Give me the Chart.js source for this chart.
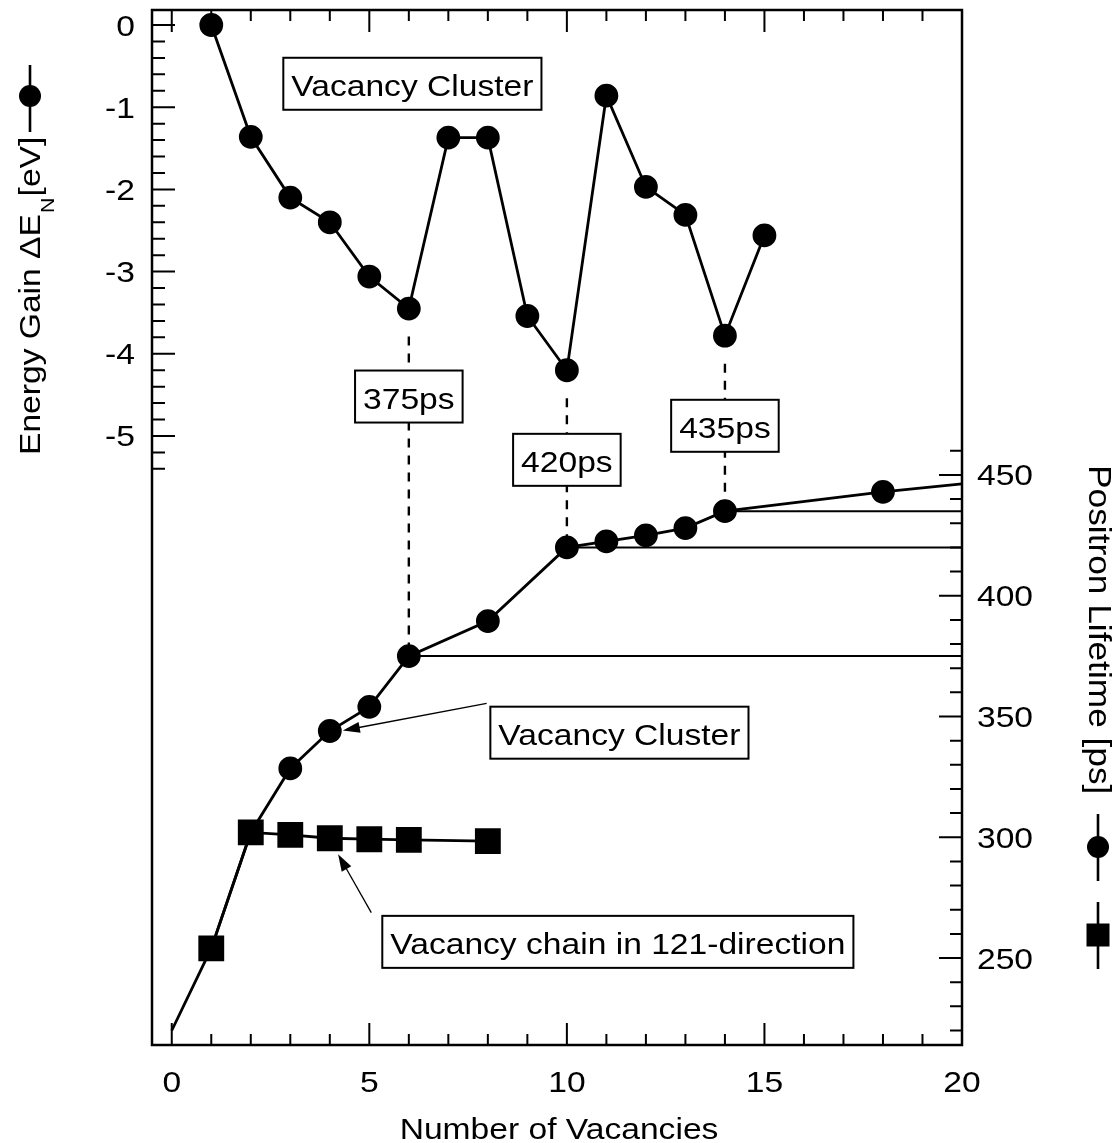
<!DOCTYPE html>
<html>
<head>
<meta charset="utf-8">
<title>Vacancy clusters: energy gain and positron lifetime</title>
<script src="https://cdn.jsdelivr.net/npm/chart.js@4.4.1/dist/chart.umd.min.js"></script>
<style>
  html, body { margin: 0; padding: 0; background: #fff; }
  #wrap { width: 1115px; height: 1143px; }
</style>
</head>
<body>
<div id="wrap"><canvas id="vacChart" width="1115" height="1143"></canvas></div>
<script>
// energy gain when adding the N-th vacancy (left axis, eV)
var energyN = [1, 2, 3, 4, 5, 6, 7, 8, 9, 10, 11, 12, 13, 14, 15];
var energyGain = [0, -1.36, -2.10, -2.40, -3.06, -3.45, -1.37, -1.37, -3.54, -4.20, -0.86, -1.97, -2.31, -3.78, -2.56];

// positron lifetime of compact clusters (right axis, ps); n = 0..2 and 20 carry no marker
var clusterN = [0, 1, 2, 3, 4, 5, 6, 8, 10, 11, 12, 13, 14, 18, 20];
var clusterTau = [220, 254, 302, 328.5, 344, 354, 375, 389.5, 420, 422.5, 425, 428, 435, 443, 446.3];

// vacancy chain in 121-direction
var chainN = [1, 2, 3, 4, 5, 6, 8];
var chainTau = [254, 302, 301, 299.6, 299.2, 298.9, 298.4];

// lifetimes marked with a drop line, a label and a level line
var markedN = [6, 10, 14];
var markedTau = [375, 420, 435];

var xTicks = [0, 5, 10, 15, 20];
var energyTicks = [0, -1, -2, -3, -4, -5];
var tauTicks = [250, 300, 350, 400, 450];

var FONT = '"Liberation Sans", Arial, Helvetica, sans-serif';
var STRETCH = 1.12; // lettering in this figure runs a bit wider than plain Arial

function pts(xs, ys) {
  return xs.map(function (v, i) { return { x: v, y: ys[i] }; });
}

function setFont(ctx, size) { ctx.font = size + 'px ' + FONT; }

function textWidth(ctx, str, size) {
  setFont(ctx, size);
  return ctx.measureText(str).width * STRETCH;
}

function drawText(ctx, str, x, y, size, align) {
  ctx.save();
  ctx.translate(x, y);
  ctx.scale(STRETCH, 1);
  setFont(ctx, size);
  ctx.textAlign = align || 'center';
  ctx.textBaseline = 'alphabetic';
  ctx.fillText(str, 0, 0);
  ctx.restore();
}

function arrow(ctx, x0, y0, x1, y1) {
  var a = Math.atan2(y1 - y0, x1 - x0), L = 17, W = 5.5;
  var c = Math.cos(a), s = Math.sin(a);
  ctx.beginPath();
  ctx.moveTo(x0, y0);
  ctx.lineTo(x1 - L * 0.8 * c, y1 - L * 0.8 * s);
  ctx.stroke();
  ctx.beginPath();
  ctx.moveTo(x1, y1);
  ctx.lineTo(x1 - L * c + W * s, y1 - L * s - W * c);
  ctx.lineTo(x1 - L * c - W * s, y1 - L * s + W * c);
  ctx.closePath();
  ctx.fill();
}

// little "marker on a line" keys next to the axis titles
function keySymbol(ctx, cx, cy, y0, y1, shape) {
  ctx.lineWidth = 2.6;
  ctx.beginPath();
  ctx.moveTo(cx, y0);
  ctx.lineTo(cx, y1);
  ctx.stroke();
  ctx.beginPath();
  if (shape === 'circle') ctx.arc(cx, cy, 11, 0, Math.PI * 2);
  else ctx.rect(cx - 11.5, cy - 11.5, 23, 23);
  ctx.fill();
}

// boxed labels, placed in data units (n, value on the given axis)
var notes = [
  { text: 'Vacancy Cluster', n: 6.09, v: -0.715, axis: 'yE' },
  { text: markedTau[0] + 'ps', n: markedN[0], v: -4.52, axis: 'yE' },
  { text: markedTau[1] + 'ps', n: markedN[1], v: -5.29, axis: 'yE' },
  { text: markedTau[2] + 'ps', n: markedN[2], v: -4.876, axis: 'yE' },
  { text: 'Vacancy Cluster', n: 11.33, v: 343.3, axis: 'yT' },
  { text: 'Vacancy chain in 121-direction', n: 11.29, v: 256.7, axis: 'yT' }
];

// pointer arrows, lifetime axis units
var pointers = [
  { from: [7.97, 355.4], to: [4.33, 344.2] },
  { from: [5.05, 268.8], to: [4.21, 293] }
];

var plotExtras = {
  id: 'plotExtras',
  beforeDatasetsDraw: function (chart) {
    var ctx = chart.ctx, sx = chart.scales.x, yE = chart.scales.yE, yT = chart.scales.yT;
    var area = chart.chartArea;
    ctx.save();
    ctx.strokeStyle = '#000';
    // dashed drops from the energy minimum down to the lifetime point
    ctx.lineWidth = 2.4;
    ctx.setLineDash([9, 8]);
    markedN.forEach(function (n, i) {
      var px = sx.getPixelForValue(n);
      var top = yE.getPixelForValue(energyGain[energyN.indexOf(n)]) + 28;
      ctx.beginPath();
      ctx.moveTo(px, top);
      ctx.lineTo(px, yT.getPixelForValue(markedTau[i]));
      ctx.stroke();
    });
    // level lines out to the right frame
    ctx.setLineDash([]);
    ctx.lineWidth = 2;
    markedN.forEach(function (n, i) {
      var py = yT.getPixelForValue(markedTau[i]);
      ctx.beginPath();
      ctx.moveTo(sx.getPixelForValue(n), py);
      ctx.lineTo(area.right, py);
      ctx.stroke();
    });
    ctx.restore();
  },
  afterDatasetsDraw: function (chart) {
    var ctx = chart.ctx, sx = chart.scales.x;
    ctx.save();
    ctx.fillStyle = '#000';
    ctx.strokeStyle = '#000';
    notes.forEach(function (nt) {
      var cx = sx.getPixelForValue(nt.n);
      var cy = chart.scales[nt.axis].getPixelForValue(nt.v);
      var w = textWidth(ctx, nt.text, 30) + 16, h = 52;
      ctx.fillStyle = '#fff';
      ctx.fillRect(cx - w / 2, cy - h / 2, w, h);
      ctx.lineWidth = 2;
      ctx.strokeRect(cx - w / 2, cy - h / 2, w, h);
      ctx.fillStyle = '#000';
      drawText(ctx, nt.text, cx, cy + 12, 30, 'center');
    });
    ctx.lineWidth = 1.3;
    var yT = chart.scales.yT;
    pointers.forEach(function (p) {
      arrow(ctx, sx.getPixelForValue(p.from[0]), yT.getPixelForValue(p.from[1]),
        sx.getPixelForValue(p.to[0]), yT.getPixelForValue(p.to[1]));
    });
    ctx.restore();
  },
  afterDraw: function (chart) {
    var ctx = chart.ctx, area = chart.chartArea;
    var sx = chart.scales.x, yE = chart.scales.yE, yT = chart.scales.yT;
    ctx.save();
    ctx.strokeStyle = '#000';
    ctx.fillStyle = '#000';

    // inward tick marks on all four sides
    ctx.lineWidth = 2;
    ctx.beginPath();
    for (var n = 0; n <= 20; n++) {
      var px = sx.getPixelForValue(n), len = n % 5 === 0 ? 22 : 11;
      ctx.moveTo(px, area.bottom); ctx.lineTo(px, area.bottom - len);
      ctx.moveTo(px, area.top); ctx.lineTo(px, area.top + len);
    }
    for (var k = 0; k <= 27; k++) {
      var py = yE.getPixelForValue(-k * 0.2), le = k % 5 === 0 ? 23 : 13;
      ctx.moveTo(area.left, py); ctx.lineTo(area.left + le, py);
    }
    for (var t = 220; t <= 460; t += 10) {
      var pt = yT.getPixelForValue(t), lt = t % 50 === 0 ? 23 : 12;
      ctx.moveTo(area.right, pt); ctx.lineTo(area.right - lt, pt);
    }
    ctx.stroke();

    ctx.lineWidth = 2.5;
    ctx.strokeRect(area.left, area.top, area.right - area.left, area.bottom - area.top);

    // tick labels, taken from the ticks each scale built
    sx.ticks.forEach(function (tk) {
      drawText(ctx, String(tk.value), sx.getPixelForValue(tk.value), area.bottom + 47, 30, 'center');
    });
    yE.ticks.forEach(function (tk) {
      drawText(ctx, String(tk.value), area.left - 17, yE.getPixelForValue(tk.value) + 10.5, 30, 'right');
    });
    yT.ticks.forEach(function (tk) {
      drawText(ctx, String(tk.value), area.right + 15, yT.getPixelForValue(tk.value) + 10.5, 30, 'left');
    });

    // axis titles
    drawText(ctx, 'Number of Vacancies', 559, 1139, 30, 'center');

    ctx.save();
    ctx.translate(40, 455);
    ctx.rotate(-Math.PI / 2);
    ctx.scale(STRETCH, 1);
    ctx.textAlign = 'left';
    setFont(ctx, 30);
    var s1 = 'Energy Gain \u0394E';
    ctx.fillText(s1, 0, 0);
    var w = ctx.measureText(s1).width;
    setFont(ctx, 19);
    ctx.fillText('N', w + 1, 14);
    w += ctx.measureText('N').width + 2;
    setFont(ctx, 30);
    ctx.fillText('[eV]', w, 0);
    ctx.restore();
    keySymbol(ctx, 30, 96, 65, 132, 'circle');

    ctx.save();
    ctx.translate(1089, 465);
    ctx.rotate(Math.PI / 2);
    ctx.scale(STRETCH, 1);
    ctx.textAlign = 'left';
    setFont(ctx, 31.5);
    ctx.fillText('Positron Lifetime [ps]', 0, 0);
    ctx.restore();
    keySymbol(ctx, 1098, 847, 814, 881, 'circle');
    keySymbol(ctx, 1098, 935, 902, 969, 'square');

    ctx.restore();
  }
};

function fixedTicks(list) {
  return function (scale) {
    scale.ticks = list.map(function (v) { return { value: v }; });
  };
}

function noEdgePadding(scale) {
  scale.paddingTop = 0;
  scale.paddingBottom = 0;
  scale.paddingLeft = 0;
  scale.paddingRight = 0;
}

var ctxV = document.getElementById('vacChart').getContext('2d');
var vacChart = new Chart(ctxV, {
  type: 'line',
  data: {
    datasets: [{
      label: 'Energy gain',
      data: pts(energyN, energyGain),
      yAxisID: 'yE',
      borderColor: '#000',
      backgroundColor: '#000',
      borderWidth: 2.8,
      pointRadius: 10.5,
      pointStyle: 'circle',
      tension: 0
    }, {
      label: 'Vacancy cluster',
      data: pts(clusterN, clusterTau),
      yAxisID: 'yT',
      borderColor: '#000',
      backgroundColor: '#000',
      borderWidth: 2.8,
      pointStyle: 'circle',
      pointRadius: function (c) {
        var n = clusterN[c.dataIndex];
        return (n < 3 || n === 20) ? 0 : 10.5;
      },
      tension: 0
    }, {
      label: 'Vacancy chain in 121-direction',
      data: pts(chainN, chainTau),
      yAxisID: 'yT',
      borderColor: '#000',
      backgroundColor: '#000',
      borderWidth: 2.8,
      pointStyle: 'rect',
      pointRadius: 16.3,
      tension: 0
    }]
  },
  options: {
    responsive: false,
    animation: false,
    devicePixelRatio: 1,
    layout: { autoPadding: false, padding: { top: 10, left: 0, right: 0, bottom: 0 } },
    plugins: { legend: { display: false }, tooltip: { enabled: false } },
    elements: { point: { borderWidth: 0, hoverRadius: 0 } },
    scales: {
      x: {
        type: 'linear',
        position: 'bottom',
        min: -0.5,
        max: 20,
        grid: { display: false, drawTicks: false },
        border: { display: false },
        ticks: { display: false },
        afterBuildTicks: fixedTicks(xTicks),
        afterFit: function (s) { s.height = 98; noEdgePadding(s); }
      },
      yE: {
        type: 'linear',
        position: 'left',
        min: -12.409,
        max: 0.1825,
        grid: { display: false, drawTicks: false },
        border: { display: false },
        ticks: { display: false },
        afterBuildTicks: fixedTicks(energyTicks),
        afterFit: function (s) { s.width = 152; noEdgePadding(s); }
      },
      yT: {
        type: 'linear',
        position: 'right',
        min: 214.0,
        max: 642.5,
        grid: { display: false, drawTicks: false },
        border: { display: false },
        ticks: { display: false },
        afterBuildTicks: fixedTicks(tauTicks),
        afterFit: function (s) { s.width = 153; noEdgePadding(s); }
      }
    }
  },
  plugins: [plotExtras]
});
</script>
</body>
</html>
